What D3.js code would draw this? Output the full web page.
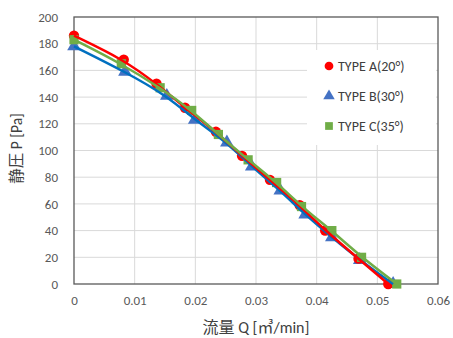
<!DOCTYPE html>
<html>
<head>
<meta charset="utf-8">
<script src="https://cdn.jsdelivr.net/npm/d3@7"></script>
<style>
  body { margin: 0; background: #fff; }
  text { font-family: Calibri, Carlito, "Liberation Sans", "Noto Sans CJK JP", sans-serif; }
</style>
</head>
<body>
<script>
var svgW = 453;
var svgH = 338;

var margin = { top: 17, right: 15, bottom: 54, left: 74 };
var chartWidth = svgW - margin.left - margin.right;
var chartHeight = svgH - margin.top - margin.bottom;

// TYPE A(20°)
var qA = [0, 0.0082, 0.0136, 0.0183, 0.0234, 0.0277, 0.0323, 0.0372, 0.0414, 0.0469, 0.0518];
var pA = [186, 168, 150, 132, 114, 96, 78, 59, 40, 19, 0];
// TYPE B(30°)
var qB = [0, 0.0084, 0.0153, 0.0199, 0.0252, 0.0293, 0.0340, 0.0381, 0.0425, 0.0471, 0.0526];
var pB = [178, 159, 141, 123, 106, 88, 70, 52, 35, 18, 0];
// TYPE C(35°)
var qC = [0, 0.0078, 0.0142, 0.0194, 0.0238, 0.0287, 0.0334, 0.0375, 0.0425, 0.0474, 0.0532];
var pC = [183, 165, 147, 130, 112, 93, 76, 58, 40, 20, 0];

var xTicks = [0, 0.01, 0.02, 0.03, 0.04, 0.05, 0.06];
var yTicks = [0, 20, 40, 60, 80, 100, 120, 140, 160, 180, 200];
var names = ["TYPE A(20°)", "TYPE B(30°)", "TYPE C(35°)"];

var series = [
  { name: names[1], q: qB, p: pB, line: "#0070C0", fill: "#4472C4", shape: "tri" },
  { name: names[0], q: qA, p: pA, line: "#FF0000", fill: "#FF0000", shape: "circ" },
  { name: names[2], q: qC, p: pC, line: "#70AD47", fill: "#70AD47", shape: "sq" }
];

var svg = d3.select("body")
  .append("svg")
  .attr("width", svgW)
  .attr("height", svgH)
  .append("g")
  .attr("transform", "translate(" + margin.left + "," + margin.top + ")");

var xScale = d3.scaleLinear().domain([0, 0.06]).range([0, chartWidth]);
var yScale = d3.scaleLinear().domain([0, 200]).range([chartHeight, 0]);

// gridlines
svg.selectAll(".gx").data(xTicks.slice(1, -1)).enter().append("line")
  .attr("x1", function (d) { return xScale(d); }).attr("x2", function (d) { return xScale(d); })
  .attr("y1", 0).attr("y2", chartHeight)
  .attr("stroke", "#d9d9d9").attr("stroke-width", 1);
svg.selectAll(".gy").data(yTicks.slice(1, -1)).enter().append("line")
  .attr("x1", 0).attr("x2", chartWidth)
  .attr("y1", function (d) { return yScale(d); }).attr("y2", function (d) { return yScale(d); })
  .attr("stroke", "#d9d9d9").attr("stroke-width", 1);

// frame
svg.append("rect")
  .attr("x", 0).attr("y", 0).attr("width", chartWidth).attr("height", chartHeight)
  .attr("fill", "none").attr("stroke", "#595959").attr("stroke-width", 1.3);

// axes
var xAxis = d3.axisBottom(xScale).tickValues(xTicks).tickSize(0).tickPadding(12)
  .tickFormat(function (d) { return d === 0 ? "0" : d3.format(".2f")(d); });
var yAxis = d3.axisLeft(yScale).tickValues(yTicks).tickSize(0).tickPadding(16);

var gx = svg.append("g").attr("transform", "translate(0," + chartHeight + ")").call(xAxis);
var gy = svg.append("g").call(yAxis);
[gx, gy].forEach(function (g) {
  g.select(".domain").remove();
  g.selectAll("text").attr("fill", "#595959").style("font-size", "13px");
});

// smoothed trend lines
var line = d3.line()
  .x(function (d) { return xScale(d[0]); })
  .y(function (d) { return yScale(d[1]); })
  .curve(d3.curveBasis);

function sym(shape, size) {
  if (shape === "tri") return d3.symbol().type(d3.symbolTriangle).size(size * 0.95)();
  if (shape === "sq") return d3.symbol().type(d3.symbolSquare).size(size * 1.0)();
  return d3.symbol().type(d3.symbolCircle).size(size)();
}

series.forEach(function (s) {
  var pts = s.q.map(function (q, i) { return [q, s.p[i]]; });
  svg.append("g").selectAll("path").data(pts).enter().append("path")
    .attr("d", sym(s.shape, 85))
    .attr("transform", function (d) { return "translate(" + xScale(d[0]) + "," + yScale(d[1]) + ")"; })
    .attr("fill", s.fill);
});
series.forEach(function (s) {
  var pts = s.q.map(function (q, i) { return [q, s.p[i]]; });
  svg.append("path").datum(pts)
    .attr("d", line)
    .attr("fill", "none")
    .attr("stroke", s.line)
    .attr("stroke-width", 2.5);
});

// legend
var legend = svg.append("g").attr("transform", "translate(" + (chartWidth - 131) + ",33)");
legend.append("rect").attr("x", 0).attr("y", 0).attr("width", 129).attr("height", 95).attr("fill", "#fff");
var legOrder = [series[1], series[0], series[2]];
legOrder.forEach(function (s, i) {
  var row = legend.append("g").attr("transform", "translate(0," + (16 + i * 30) + ")");
  row.append("path").attr("d", sym(s.shape, 60))
    .attr("transform", "translate(22,0)").attr("fill", s.fill);
  row.append("text").attr("x", 31).attr("y", 5)
    .attr("fill", "#404040").style("font-size", "14px").text(s.name);
});

// axis titles
svg.append("text")
  .attr("x", chartWidth / 2).attr("y", chartHeight + 49)
  .attr("text-anchor", "middle").attr("fill", "#404040").style("font-size", "16px")
  .text("流量 Q [㎥/min]");
svg.append("text")
  .attr("transform", "translate(-52," + (chartHeight / 2 - 2) + ") rotate(-90)")
  .attr("text-anchor", "middle").attr("fill", "#404040").style("font-size", "15.5px")
  .text("静圧 P [Pa]");
</script>
</body>
</html>
